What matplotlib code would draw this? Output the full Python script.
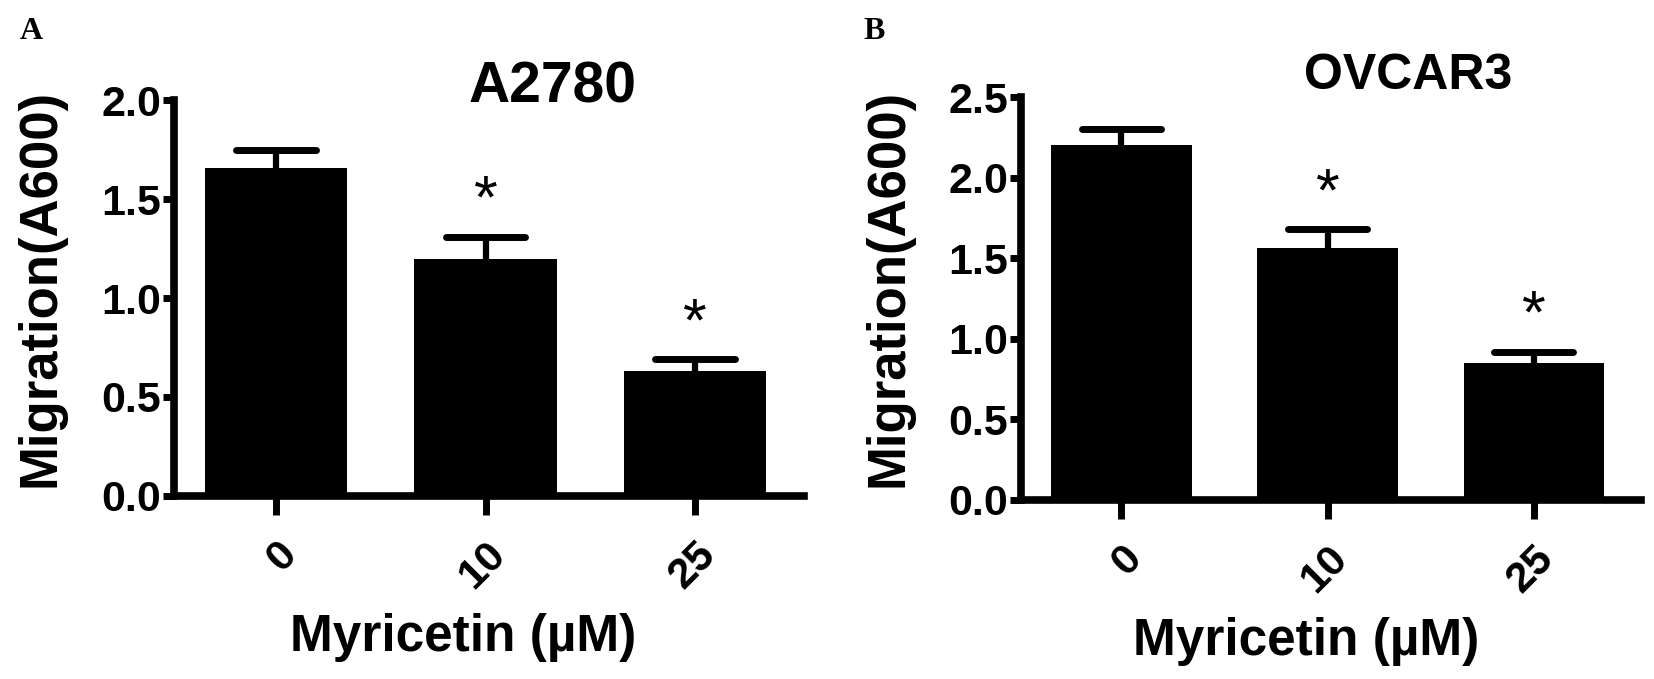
import matplotlib
matplotlib.use("Agg")
import matplotlib.pyplot as plt

plt.rcParams['font.family'] = ['Liberation Sans', 'DejaVu Sans']

doses = ["0", "10", "25"]
a2780_means = [1.66, 1.20, 0.63]
a2780_err = [0.09, 0.11, 0.06]
a2780_sig = ["", "*", "*"]
ovcar3_means = [2.20, 1.56, 0.85]
ovcar3_err = [0.10, 0.12, 0.07]
ovcar3_sig = ["", "*", "*"]

fig = plt.figure(figsize=(16.54, 6.79), dpi=100)


def panel(rect, means, errs, sig, title, title_pos, title_size, ymax, letter, letter_x):
    ax = fig.add_axes(rect)
    x = list(range(len(doses)))
    tops = [m + e for m, e in zip(means, errs)]
    # upper error bars only (drawn under the bars)
    ax.vlines(x, means, tops, color="black", linewidth=4.5, zorder=1)
    for xi, t in zip(x, tops):
        ax.hlines(t, xi - 0.19, xi + 0.19, color="black", linewidth=5, zorder=1,
                  capstyle="round")
    ax.bar(x, means, width=0.68, color="black", zorder=2)
    for xi, t, s in zip(x, tops, sig):
        if s:
            ax.text(xi, t + ymax * 0.015, s, ha="center", va="bottom", fontsize=44)
    ax.set_xlim(-0.49, 2.52)
    ax.set_ylim(0, ymax)
    ticks = [i * 0.5 for i in range(int(ymax / 0.5) + 1)]
    ax.set_yticks(ticks)
    ax.set_yticklabels(["%.1f" % t for t in ticks], fontsize=31, fontweight="bold")
    ax.set_xticks(x)
    ax.set_xticklabels(doses, fontsize=31, fontweight="bold", rotation=45,
                       ha="right", rotation_mode="anchor")
    ax.spines["top"].set_visible(False)
    ax.spines["right"].set_visible(False)
    ax.spines["left"].set_linewidth(5.5)
    ax.spines["bottom"].set_linewidth(5.5)
    ax.tick_params(axis="y", length=8, width=5, pad=1)
    ax.tick_params(axis="x", length=14, width=5, pad=14)
    ax.set_ylabel("Migration(A600)", fontsize=38, fontweight="bold")
    ax.yaxis.set_label_coords(-0.172, 0.525)
    ax.set_xlabel("Myricetin (µM)", fontsize=37, fontweight="bold", labelpad=12)
    ax.xaxis.label.set_x(0.46)
    ax.text(title_pos[0], title_pos[1], title, fontsize=title_size, fontweight="bold",
            ha="center", va="baseline", transform=ax.get_xaxis_transform(), clip_on=False)
    fig.text(letter_x, 0.953, letter, fontsize=23, fontweight="bold",
             family="Liberation Serif", ha="left", va="center")
    return ax


panel([0.105, 0.27, 0.381, 0.582], a2780_means, a2780_err, a2780_sig,
      "A2780", (1.32, 0.995), 41, 2.0, "A", 0.012)
panel([0.617, 0.264, 0.375, 0.593], ovcar3_means, ovcar3_err, ovcar3_sig,
      "OVCAR3", (1.39, 1.02), 36, 2.5, "B", 0.522)

fig.savefig("out.png", dpi=100)
